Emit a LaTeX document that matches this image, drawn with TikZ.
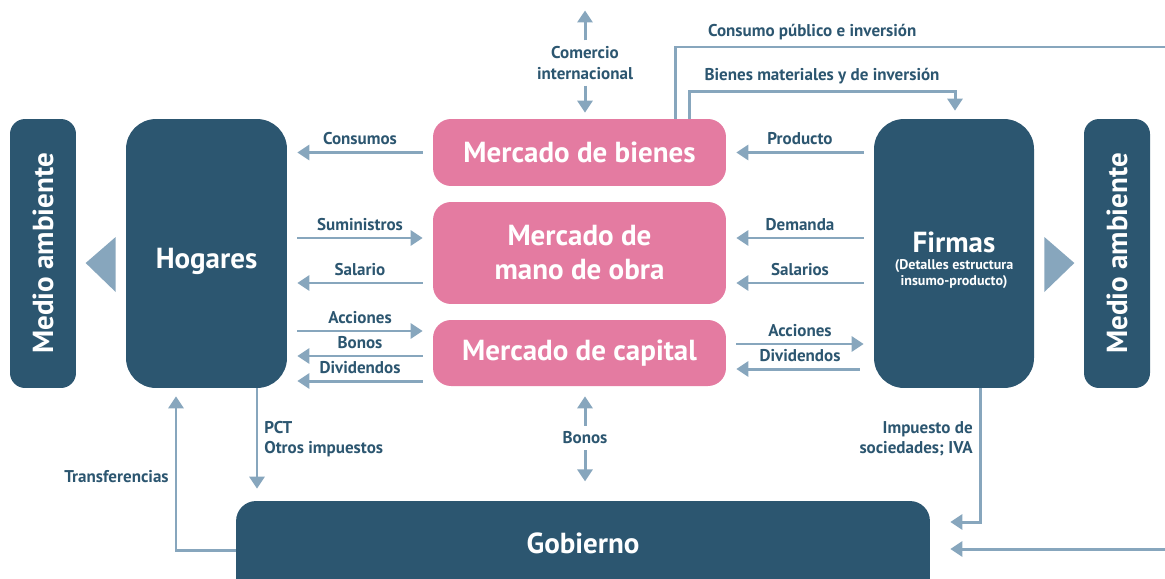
\documentclass[tikz,border=0pt]{standalone}
\usepackage{fontspec}
\setmainfont{PT Sans}
\usetikzlibrary{arrows.meta,calc}
\definecolor{boxblue}{HTML}{2C5670}
\definecolor{boxpink}{HTML}{E47BA1}
\definecolor{flowblue}{HTML}{87A6BD}
\newcommand{\smalltxt}{\fontsize{8}{9}\selectfont}

\begin{document}
\begin{tikzpicture}[x=0.02cm,y=-0.02cm,
  darkbox/.style={fill=boxblue, text=white, rounded corners=0.6cm, align=center,
    font=\bfseries\fontsize{16.5}{19.3}\selectfont},
  envbox/.style={darkbox, rounded corners=0.3cm, minimum width=5.38cm, minimum height=1.32cm, rotate=90},
  pinkbox/.style={fill=boxpink, text=white, rounded corners=0.36cm, align=center,
    minimum width=5.86cm, font=\bfseries\fontsize{16.5}{19.3}\selectfont},
  flowline/.style={draw=flowblue, line width=1.7pt},
  flow/.style={flowline, -{Triangle[width=0.3cm,length=0.24cm]}},
  gap/.style={shorten <=0.2cm, shorten >=0.2cm},
  lbl/.style={text=boxblue, align=center, font=\bfseries\fontsize{9.7}{11.5}\selectfont}]

  \useasboundingbox (0,0) rectangle (1165,578);
  \clip (0,0) rectangle (1165,578);

  % Define nodes for all elements
  \node[envbox] (medL) at (43,253.5) {Medio ambiente};
  \node[darkbox, minimum width=3.22cm, minimum height=5.38cm] (hog) at (206.5,253.5)
    {\raisebox{-0.16cm}[\height][\depth]{Hogares}};
  \node[pinkbox, minimum height=1.34cm] (bienes) at (579.5,152.5) {Mercado de bienes};
  \node[pinkbox, minimum height=2.04cm] (mano) at (579.5,253) {Mercado de\\mano de obra};
  \node[pinkbox, minimum height=1.32cm] (capital) at (579.5,353) {Mercado de capital};
  \node[darkbox, minimum width=3.2cm, minimum height=5.38cm] (firmas) at (954,253.5)
    {\rule{0pt}{19.5pt}Firmas\\[-9.6pt]{\smalltxt(Detalles estructura}\\[-10.3pt]{\smalltxt insumo-producto)}};
  \node[envbox] (medR) at (1117,253.5) {Medio ambiente};
  \node[darkbox, rounded corners=0.4cm, minimum width=13.88cm, minimum height=1.96cm] (gob) at (583,550)
    {\raisebox{0.14cm}[\height][\depth]{Gobierno}};
  \node[lbl] (comercio) at (585,63) {Comercio\\internacional};
  \node[lbl] (bonosg) at (585,438) {Bonos};

  % Rows of the market flows
  \coordinate (rSum) at (0,238);
  \coordinate (rSal) at (0,283);
  \coordinate (rAcc) at (0,331);
  \coordinate (rBon) at (0,356);
  \coordinate (rDiv) at (0,381);
  \coordinate (rAccR) at (0,344);
  \coordinate (rDivR) at (0,369);
  \coordinate (rImp) at (0,522);
  \coordinate (edgeT) at (1165,47);
  \coordinate (edgeB) at (1165,549);

  % Big arrows to the environment
  \fill[flowblue] ($(hog.west)+(-10,-16.5)$) -- ($(hog.west)+(-10,38.5)$) -- ($(hog.west)+(-40,9.5)$) -- cycle;
  \fill[flowblue] ($(firmas.east)+(10,-16.5)$) -- ($(firmas.east)+(10,38.5)$) -- ($(firmas.east)+(40,9.5)$) -- cycle;

  % Draw arrows
  \draw[flow,gap] (bienes.west) -- (hog.east |- bienes.west) node[midway,above,lbl] {Consumos};
  \draw[flow,gap] (hog.east |- rSum) -- (mano.west |- rSum) node[midway,above,lbl] {Suministros};
  \draw[flow,gap] (mano.west |- rSal) -- (hog.east |- rSal) node[midway,above,lbl] {Salario};
  \draw[flow,gap] (hog.east |- rAcc) -- (capital.west |- rAcc) node[midway,above,lbl] {Acciones};
  \draw[flow,gap,{Triangle[width=0.3cm,length=0.24cm]}-] (hog.east |- rBon) -- (capital.west |- rBon) node[midway,above,lbl] {Bonos};
  \draw[flow,gap] (capital.west |- rDiv) -- (hog.east |- rDiv) node[midway,above,lbl] {Dividendos};

  \draw[flow,gap] (firmas.west |- bienes.east) -- (bienes.east) node[midway,above,lbl] {Producto};
  \draw[flow,gap] (firmas.west |- rSum) -- (mano.east |- rSum) node[midway,above,lbl] {Demanda};
  \draw[flow,gap] (firmas.west |- rSal) -- (mano.east |- rSal) node[midway,above,lbl] {Salarios};
  \draw[flow,gap] (capital.east |- rAccR) -- (firmas.west |- rAccR) node[midway,above,lbl] {Acciones};
  \draw[flow,gap,shorten <=0.28cm] (firmas.west |- rDivR) -- (capital.east |- rDivR) node[midway,above,lbl] {Dividendos};

  \draw[flow] (comercio.north) -- ++(0,-30);
  \draw[flow,shorten >=0.12cm] (comercio.south) -- (bienes.north -| comercio.south);
  \draw[flow,shorten >=0.2cm] (bonosg.north) -- (capital.south -| bonosg.north);
  \draw[flow] (bonosg.south) -- ++(0,31);

  \draw[flowline] ($(bienes.north)+(95.5,0)$) |- node[pos=0.64,above,lbl] {Consumo público e inversión} (edgeT);
  \draw[flow] (edgeB) -- ($(gob.east |- edgeB)+(20,0)$);
  \draw[flow] ($(bienes.north)+(109.5,0)$) -- ++(0,-27) -| node[pos=0.25,above,lbl] {Bienes materiales y de inversión} ($(firmas.north)+(1,-8)$);

  \coordinate (pctX) at ($(hog.south)+(50.5,0)$);
  \draw[flow] (pctX) -- ($(gob.north -| pctX)+(0,-12)$) node[pos=0.51,right,lbl,align=left] {PCT\\Otros impuestos};
  \draw[flow] (gob.west) -| node[pos=0.74,left,lbl] {Transferencias} ($(hog.south)+(-30.5,8)$);
  \draw[flow] ($(firmas.south)+(26,0)$) |- node[pos=0.19,left,lbl,align=right] {Impuesto de\\sociedades; IVA} ($(gob.east |- rImp)+(20,0)$);

\end{tikzpicture}
\end{document}
